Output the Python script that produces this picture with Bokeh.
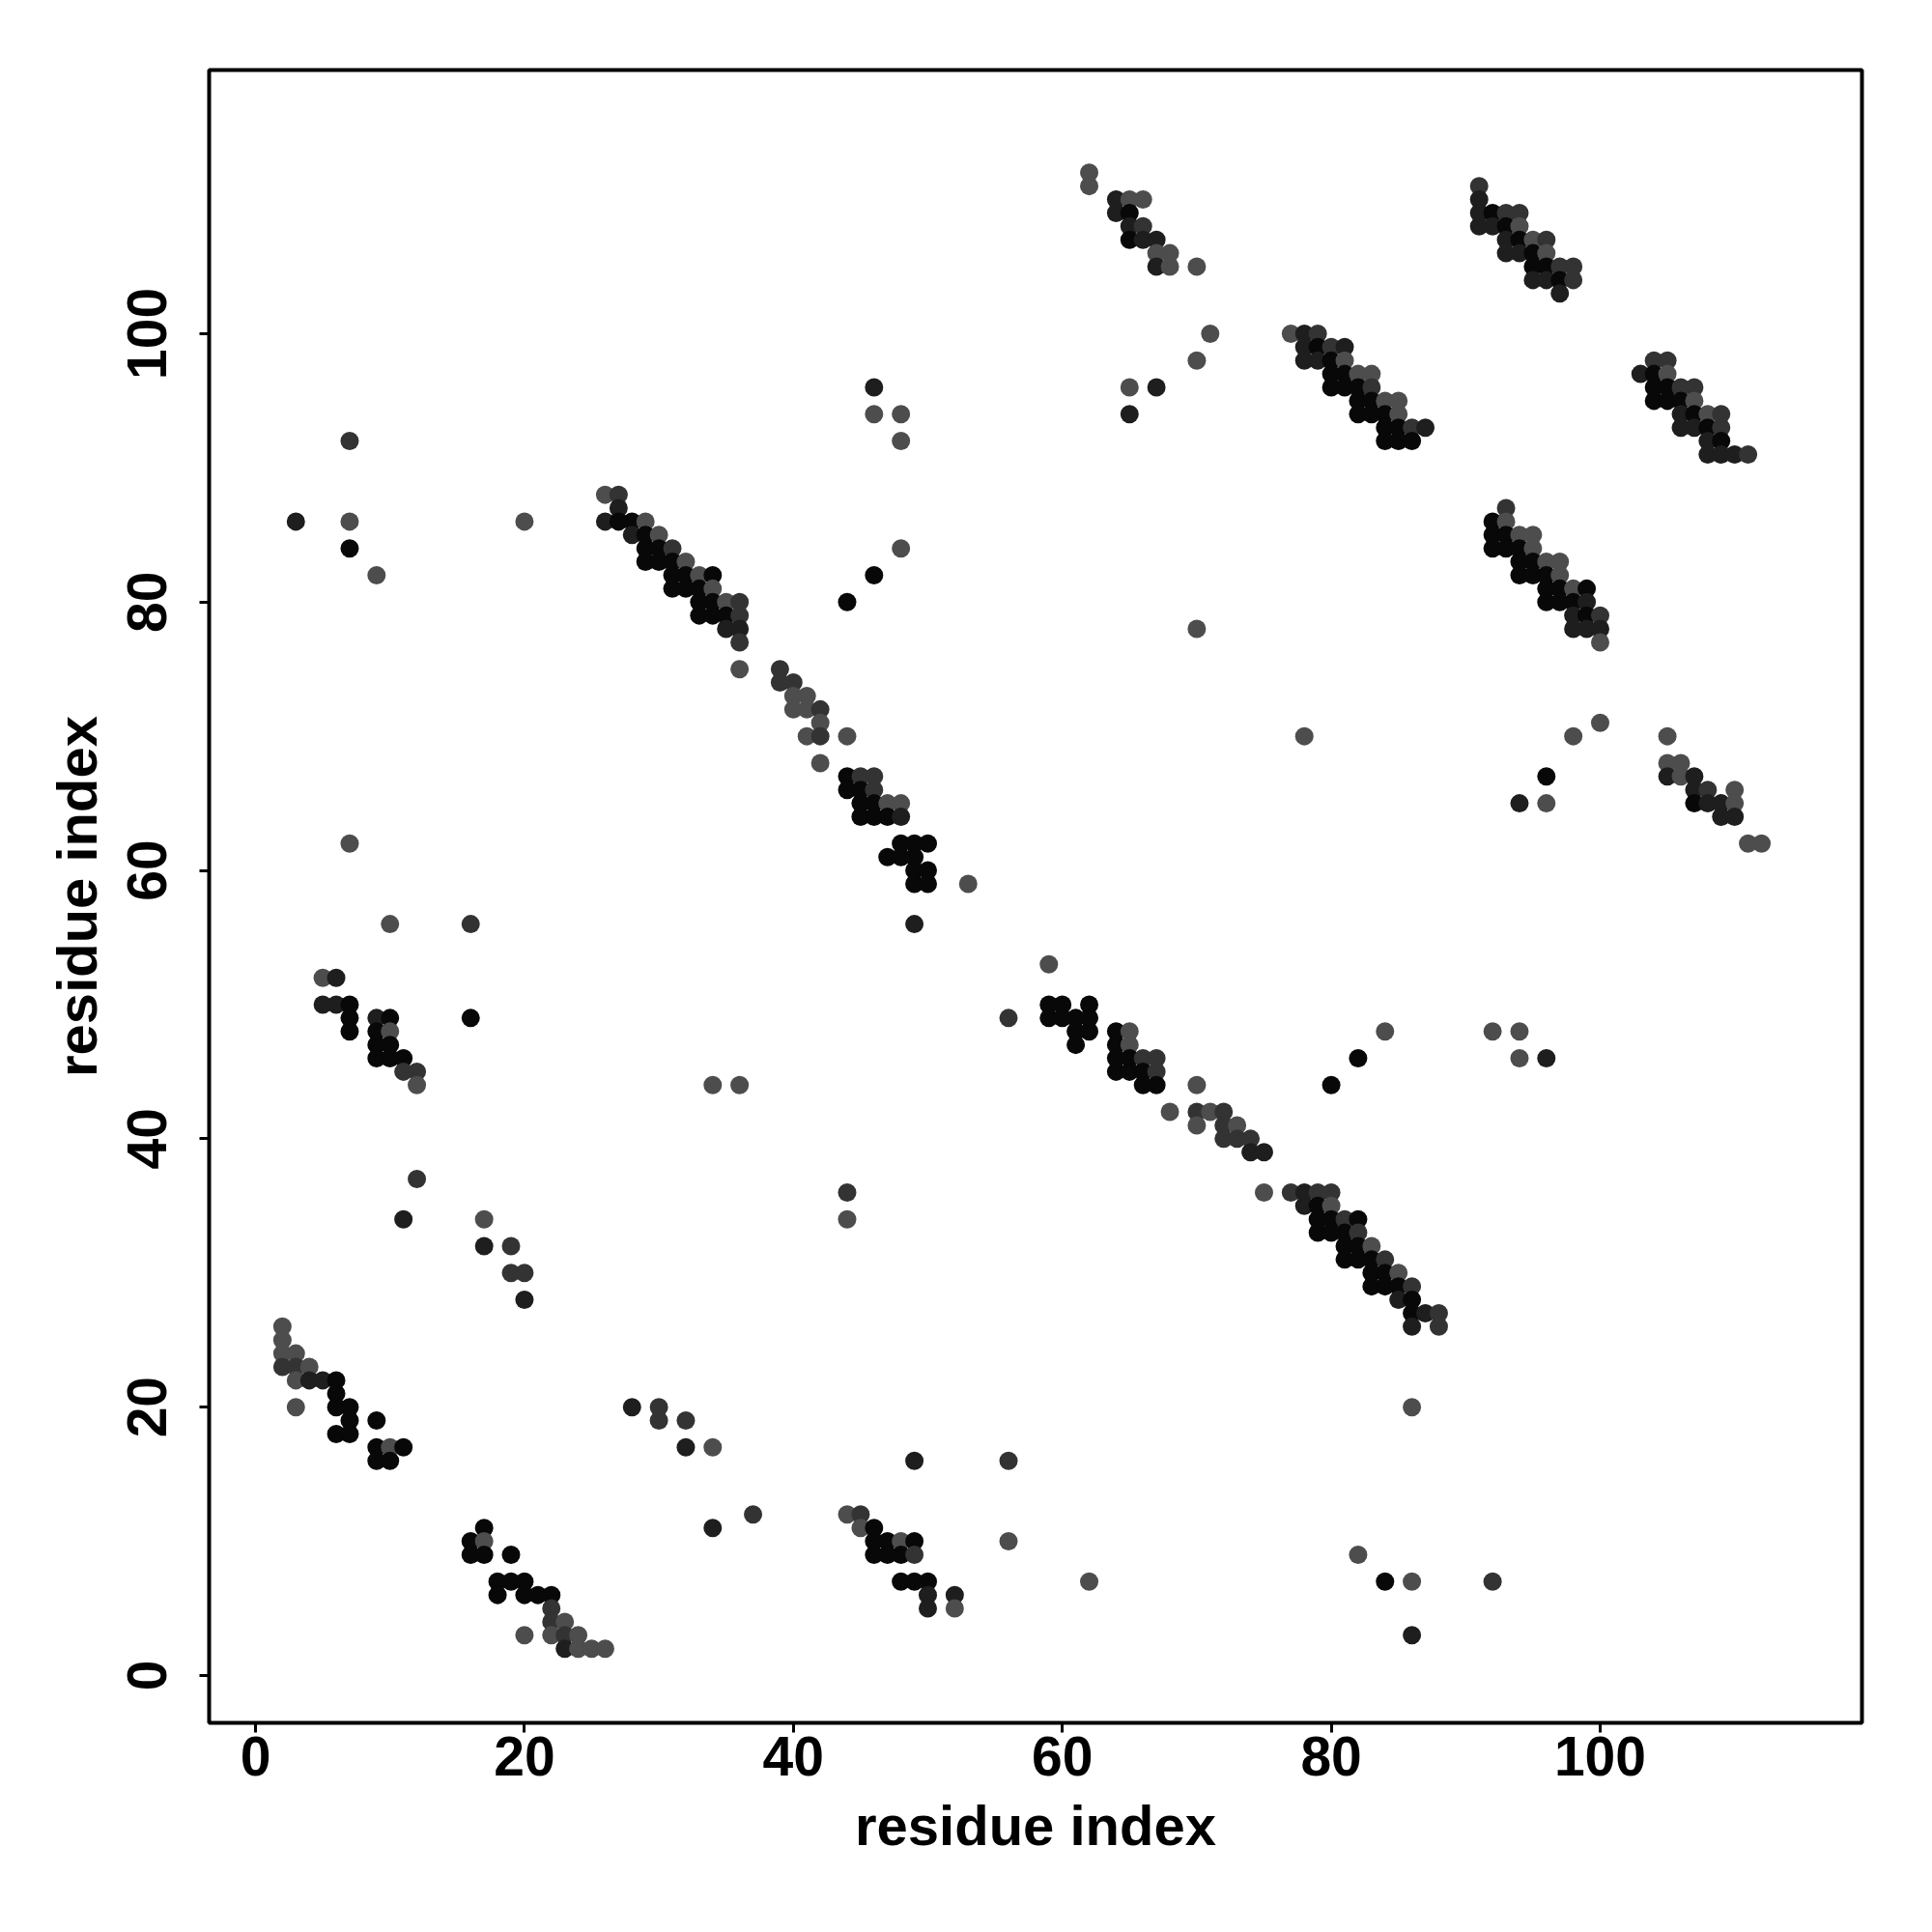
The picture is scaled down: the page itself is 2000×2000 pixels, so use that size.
from bokeh.plotting import figure
from bokeh.models import ColumnDataSource, LinearColorMapper, Range1d, FixedTicker
from bokeh.embed import file_html
from bokeh.resources import INLINE

# contact map: (residue i, residue j, confidence level 1..4)
cluster_a = [(2,26,1),(2,25,1),(2,24,1),(3,24,1),(2,23,2),(3,23,2),(4,23,1),(3,22,1),(4,22,3),(5,22,3),
             (6,22,4),(6,21,4),(6,20,4),(7,20,4),(3,20,1),(7,19,4),(9,19,4),(6,18,4),(7,18,4),(9,17,4),
             (10,17,1),(11,17,4),(9,16,4),(10,16,4),(20,28,3),(28,20,3)]
cluster_b = [(17,11,4),(16,10,4),(17,10,1),(16,9,4),(17,9,4),(19,9,4),(18,7,4),(19,7,4),(20,7,4),(18,6,4),
             (20,6,4),(21,6,4),(22,6,4),(22,5,2),(22,4,2),(23,4,1),(20,3,1),(22,3,1),(23,3,2),(24,3,1),
             (23,2,3),(24,2,1),(25,2,1),(26,2,1)]
left_points = [(3,86,3),(7,86,1),(20,86,1),(7,84,4),(9,82,1),(7,92,2),(7,62,1),(10,56,1),(16,56,2),
               (5,52,1),(6,52,3),(5,50,3),(6,50,3),(7,50,4),(7,49,4),(7,48,4),(9,49,3),(10,49,4),(9,48,4),
               (10,48,1),(9,47,4),(10,47,4),(9,46,4),(10,46,4),(11,46,4),(11,45,2),(12,45,2),(12,44,1),
               (16,49,4),(12,37,2),(11,34,3),(17,34,1),(17,32,3),(19,32,2),(19,30,2),(20,30,2)]
bottom_mid = [(30,20,2),(30,19,2),(32,19,2),(32,17,3),(34,17,1),(37,12,2),(34,11,3),(49,16,3),(56,16,2),
              (56,10,1),(44,12,1),(45,12,2),(45,11,1),(46,11,4),(46,10,4),(47,10,4),(48,10,1),(49,10,4),
              (46,9,4),(47,9,4),(48,9,4),(49,9,2),(48,7,4),(49,7,4),(50,7,4),(50,6,3),(52,6,3),(50,5,3),
              (52,5,1),(62,7,1),(34,44,1),(36,44,1),(44,36,2),(44,34,1)]
band_upper = [(46,96,3),(46,94,1),(48,94,1),(48,92,1),(48,84,1),(46,82,4),(44,80,4),
              (26,88,1),(27,88,2),(27,87,3),(26,86,3),(27,86,4),(28,86,4),(29,86,1),(28,85,3),(29,85,4),
              (30,85,1),(29,84,4),(30,84,4),(31,84,2),(29,83,4),(30,83,4),(31,83,4),(32,83,1),(31,82,4),
              (32,82,4),(33,82,1),(34,82,4),(31,81,4),(32,81,4),(33,81,4),(34,81,1),(33,80,4),(34,80,4),
              (35,80,1),(36,80,2),(33,79,4),(34,79,4),(35,79,4),(36,79,2),(35,78,3),(36,78,3),(36,77,2),
              (36,75,1)]
band_mid = [(39,75,2),(39,74,2),(40,74,2),(40,73,1),(41,73,1),(40,72,1),(41,72,1),(42,72,2),(42,71,1),
            (41,70,1),(42,70,2),(44,70,1),(42,68,1),(44,67,4),(45,67,2),(46,67,2),(44,66,4),(45,66,4),
            (46,66,2),(45,65,4),(46,65,4),(47,65,1),(48,65,1),(45,64,4),(46,64,4),(47,64,4),(48,64,3),
            (48,62,4),(49,62,4),(50,62,4),(47,61,4),(48,61,4),(49,61,4),(49,60,4),(50,60,4),(49,59,4),
            (50,59,4),(53,59,1),(49,56,3)]
band_lower = [(59,53,1),(56,49,2),(59,50,4),(60,50,4),(62,50,4),(59,49,4),(60,49,4),(61,49,4),(62,49,4),
              (61,48,4),(62,48,4),(61,47,4),(64,48,4),(65,48,1),(64,47,4),(65,47,1),(64,46,4),(65,46,4),
              (66,46,2),(67,46,2),(64,45,4),(65,45,4),(66,45,4),(67,45,2),(66,44,4),(67,44,4),(70,44,1),
              (68,42,1),(70,42,2),(71,42,1),(72,42,2),(70,41,1),(72,41,2),(73,41,1),(72,40,2),(73,40,2),
              (74,40,2),(74,39,3),(75,39,3),(75,36,1),(77,36,2),(78,36,3),(79,36,2),(80,36,2),(78,35,3),
              (79,35,4),(80,35,1),(79,34,4),(80,34,4),(81,34,2),(82,34,4),(79,33,4),(80,33,4),(81,33,4),
              (82,33,2),(81,32,4),(82,32,4),(83,32,1),(81,31,4),(82,31,4),(83,31,4),(84,31,2),(83,30,4),
              (84,30,4),(85,30,1),(83,29,4),(84,29,4),(85,29,4),(86,29,2),(85,28,3),(86,28,4),(86,27,4),
              (87,27,3),(88,27,2),(86,26,3),(88,26,2),(84,48,1),(82,46,4),(80,44,4)]
top_left = [(62,112,1),(62,111,1),(64,110,3),(65,110,1),(66,110,1),(64,109,3),(65,109,4),(65,108,3),
            (66,108,2),(65,107,4),(66,107,3),(67,107,3),(67,106,1),(68,106,1),(67,105,3),(68,105,1),
            (70,105,1),(71,100,1),(70,98,1),(65,96,1),(67,96,3),(65,94,3)]
top_band = [(77,100,1),(78,100,3),(79,100,2),(78,99,3),(79,99,4),(80,99,2),(81,99,3),(78,98,3),(79,98,3),
            (80,98,4),(81,98,1),(80,97,4),(81,97,4),(82,97,1),(83,97,1),(80,96,4),(81,96,4),(82,96,4),
            (83,96,2),(82,95,4),(83,95,4),(84,95,1),(85,95,1),(82,94,4),(83,94,4),(84,94,4),(85,94,1),
            (84,93,4),(85,93,4),(86,93,2),(87,93,3),(84,92,4),(85,92,4),(86,92,4)]
top_right = [(91,111,2),(91,110,3),(91,109,3),(92,109,4),(93,109,2),(94,109,2),(91,108,3),(92,108,3),
             (93,108,4),(94,108,1),(93,107,3),(94,107,4),(95,107,1),(96,107,2),(93,106,3),(94,106,3),
             (95,106,4),(96,106,1),(95,105,4),(96,105,4),(97,105,2),(98,105,2),(95,104,3),(96,104,3),
             (97,104,4),(98,104,2),(97,103,3),
             (104,98,2),(105,98,2),(103,97,3),(104,97,4),(105,97,1),(104,96,4),(105,96,4),(106,96,2),
             (107,96,2),(104,95,4),(105,95,4),(106,95,4),(107,95,1),(106,94,3),(107,94,4),(108,94,1),
             (109,94,2),(106,93,3),(107,93,3),(108,93,4),(109,93,2),(108,92,3),(109,92,4),(108,91,3),
             (109,91,3),(110,91,3),(111,91,2)]
right_mid = [(93,87,2),(92,86,4),(93,86,1),(92,85,4),(93,85,4),(94,85,1),(95,85,1),(92,84,4),(93,84,4),
             (94,84,4),(95,84,1),(94,83,4),(95,83,4),(96,83,1),(97,83,1),(94,82,4),(95,82,4),(96,82,4),
             (97,82,1),(96,81,4),(97,81,4),(98,81,1),(99,81,4),(96,80,4),(97,80,4),(98,80,4),(99,80,3),
             (98,79,3),(99,79,4),(100,79,2),(98,78,3),(99,78,3),(100,78,3),(100,77,1),(100,71,1),(98,70,1),
             (96,67,4),(94,65,3),(96,65,1),(105,70,1),(105,68,1),(106,68,1),(105,67,3),(106,67,1),(107,67,3),
             (107,66,3),(108,66,2),(110,66,1),(107,65,4),(108,65,3),(109,65,3),(110,65,1),(109,64,3),
             (110,64,3),(111,62,1),(112,62,1)]
scattered = [(70,78,1),(78,70,1),(86,20,1),(82,9,1),(84,7,4),(86,7,1),(92,7,2),(86,3,3),
             (92,48,1),(94,48,1),(94,46,1),(96,46,3)]

level_prob = {1: 0.5, 2: 0.65, 3: 0.8, 4: 0.95}
x_ticks = [0, 20, 40, 60, 80, 100]
y_ticks = [0, 20, 40, 60, 80, 100]

all_pts = (cluster_a + cluster_b + left_points + bottom_mid + band_upper + band_mid + band_lower
           + top_left + top_band + top_right + right_mid + scattered)
src = ColumnDataSource(dict(
    i=[p[0] for p in all_pts],
    j=[p[1] for p in all_pts],
    prob=[level_prob[p[2]] for p in all_pts],
))

mapper = LinearColorMapper(palette=["#4d4d4d", "#333333", "#1e1e1e", "#080808"], low=0.45, high=1.0)

p = figure(width=1968, height=1969, output_backend="svg", toolbar_location=None,
           x_range=Range1d(-3.45, 119.47), y_range=Range1d(-3.53, 119.65),
           min_border_left=216, min_border_top=72, min_border_right=41, min_border_bottom=186)

p.scatter("i", "j", source=src, size=19, line_color=None,
          fill_color={"field": "prob", "transform": mapper})

p.grid.visible = False
p.background_fill_color = "white"
p.border_fill_color = "white"
p.outline_line_color = "black"
p.outline_line_width = 4

for ax, ticks in ((p.xaxis[0], x_ticks), (p.yaxis[0], y_ticks)):
    ax.ticker = FixedTicker(ticks=ticks)
    ax.axis_line_color = None
    ax.major_tick_in = 0
    ax.major_tick_out = 10
    ax.major_tick_line_width = 3
    ax.major_tick_line_color = "black"
    ax.minor_tick_line_color = None
    ax.major_label_text_font = "Liberation Sans"
    ax.major_label_text_font_style = "bold"
    ax.major_label_text_font_size = "57px"
    ax.major_label_text_color = "black"
    ax.axis_label = "residue index"
    ax.axis_label_text_font = "Liberation Sans"
    ax.axis_label_text_font_style = "bold"
    ax.axis_label_text_font_size = "58px"
    ax.axis_label_text_color = "black"

p.xaxis[0].major_label_standoff = 4
p.xaxis[0].axis_label_standoff = 16
p.yaxis[0].major_label_orientation = "vertical"
p.yaxis[0].major_label_standoff = 34
p.yaxis[0].axis_label_standoff = 18

open("out.html", "w").write(file_html(p, INLINE))
